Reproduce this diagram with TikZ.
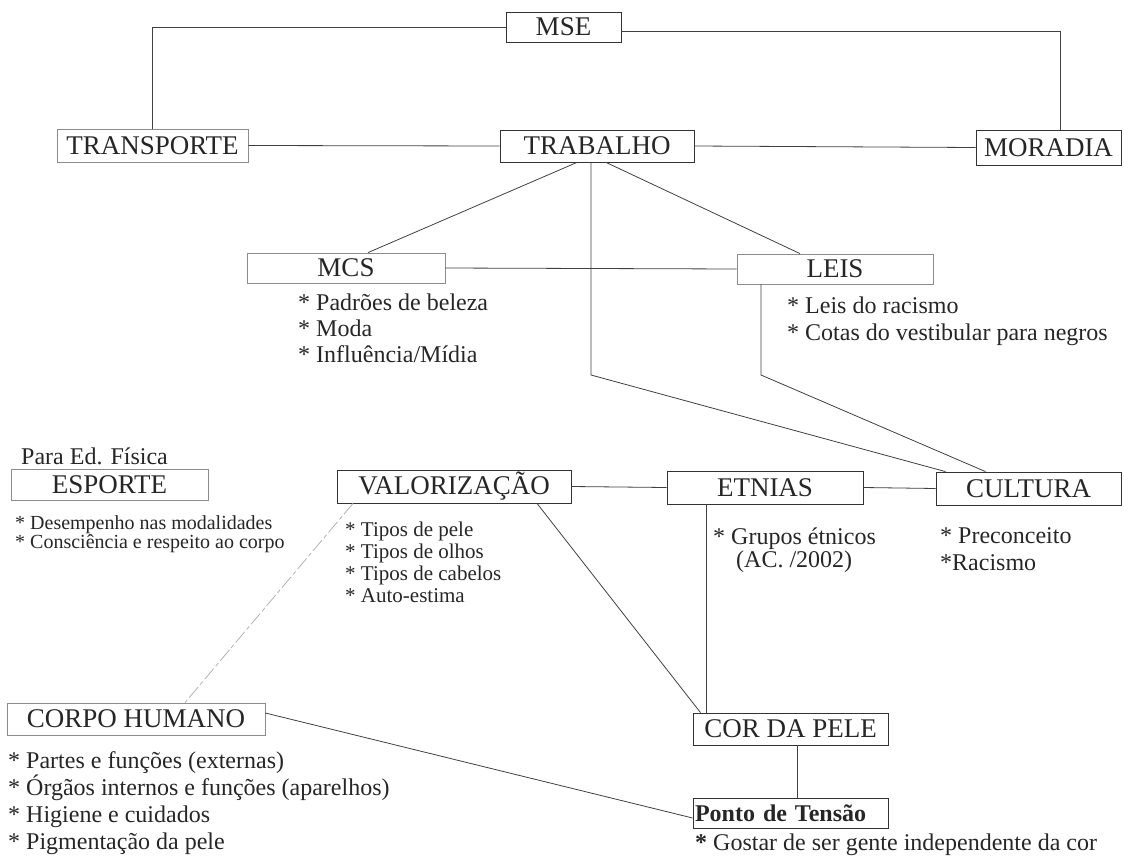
\documentclass[tikz,border=0pt]{standalone}
\usepackage{fontspec}
\setmainfont{Liberation Serif}
\usetikzlibrary{calc}

\begin{document}
\begin{tikzpicture}[x=1pt, y=-1pt,
    box/.style={draw=black!80, line width=0.8pt, inner sep=0pt, text=black!85, font=\fontsize{27}{30}\selectfont},
    pale/.style={box, draw=black!45},
    item/.style={anchor=base west, inner sep=0pt, text=black!85, font=\fontsize{24}{26}\selectfont},
    link/.style={draw=black!75, line width=0.8pt}]
  %tikz  Mapa conceitual, MSE
    \useasboundingbox (0,0) rectangle (1124,862);
    \node[box, minimum width=115pt, minimum height=30pt] (mse) at (563.5,27) {MSE};
    \node[pale, minimum width=191pt, minimum height=33pt] (transporte) at (152.5,145.5) {TRANSPORTE};
    \node[box, minimum width=194pt, minimum height=32pt] (trabalho) at (597,146) {TRABALHO};
    \node[box, minimum width=145pt, minimum height=35pt] (moradia) at (1048.5,147.5) {MORADIA};
    \node[pale, minimum width=198pt, minimum height=30pt] (mcs) at (346,268) {MCS};
    \node[pale, minimum width=196pt, minimum height=30pt] (leis) at (835,269) {LEIS};
    \node[pale, minimum width=197pt, minimum height=31pt] (esporte) at (109.5,484.5) {ESPORTE};
    \node[box, minimum width=234pt, minimum height=33pt] (valorizacao) at (454,486.5) {VALORIZAÇÃO};
    \node[box, minimum width=196pt, minimum height=33pt] (etnias) at (765,487.5) {ETNIAS};
    \node[box, minimum width=185pt, minimum height=33pt] (cultura) at (1028.5,488.5) {CULTURA};
    \node[pale, minimum width=258pt, minimum height=32pt] (corpo) at (136,719) {CORPO HUMANO};
    \node[box, minimum width=195pt, minimum height=32pt] (cor) at (790.5,729) {COR DA PELE};
    \node[box, minimum height=30pt, text width=191pt, inner xsep=2pt, align=left,
          font=\bfseries\fontsize{24}{26}\selectfont] (ponto) at (790.5,813) {Ponto de Tensão};
  % listas
    \node[item] (mcsa) at (298,310) {* Padrões de beleza};
    \node[item] (mcsb) at (298,336) {* Moda};
    \node[item] (mcsc) at (298,362) {* Influência/Mídia};
    \node[item] (leisa) at (787,313) {* Leis do racismo};
    \node[item] (leisb) at (787,340) {* Cotas do vestibular para negros};
    \node[item] (edfisica) at (21,464) {Para Ed. Física};
    \node[item, font=\fontsize{20}{22}\selectfont] (esportea) at (15,529) {* Desempenho nas modalidades};
    \node[item, font=\fontsize{20}{22}\selectfont] (esporteb) at (15,548) {* Consciência e respeito ao corpo};
    \node[item, font=\fontsize{21}{23}\selectfont] (vala) at (345,536) {* Tipos de pele};
    \node[item, font=\fontsize{21}{23}\selectfont] (valb) at (345,558) {* Tipos de olhos};
    \node[item, font=\fontsize{21}{23}\selectfont] (valc) at (345,580) {* Tipos de cabelos};
    \node[item, font=\fontsize{21}{23}\selectfont] (vald) at (345,602) {* Auto-estima};
    \node[item] (etniasa) at (713,544) {* Grupos étnicos};
    \node[item] (etniasb) at (736,567) {(AC. /2002)};
    \node[item] (culturaa) at (940,543) {* Preconceito};
    \node[item] (culturab) at (940,570) {*Racismo};
    \node[item] (corpoa) at (8,768) {* Partes e funções (externas)};
    \node[item] (corpob) at (8,795) {* Órgãos internos e funções (aparelhos)};
    \node[item] (corpoc) at (8,822) {* Higiene e cuidados};
    \node[item] (corpod) at (8,849) {* Pigmentação da pele};
    \node[item] (pontoa) at (695,850) {\textbf{*} Gostar de ser gente independente da cor};
  % ligacoes
    \coordinate (dobra1) at (591,375);
    \coordinate (dobra2) at (761,375);
    \draw[link] (mse.west) -| (transporte.north);
    \draw[link] ([yshift=-4pt]mse.east) -| ($(moradia.north)+(12,0)$);
    \draw[link] (transporte.east) -- (trabalho.west);
    \draw[link] (trabalho.east) -- (moradia.west);
    \draw[link] ($(trabalho.south)+(-20,0)$) -- ($(mcs.north)+(22,0)$);
    \draw[link] ($(trabalho.south)+(9,0)$) -- ($(leis.north)+(-35,0)$);
    \draw[link] ($(trabalho.south)+(-6,0)$) -- (dobra1) -- ($(cultura.north)+(-83,0)$);
    \draw[link] (mcs.east) -- (leis.west);
    \draw[link] ($(leis.south)+(-74,0)$) -- (dobra2) -- ($(cultura.north)+(-43,0)$);
    \draw[link] (valorizacao.east) -- (etnias.west);
    \draw[link] (etnias.east) -- (cultura.west);
    \draw[link, draw=black!30, dash pattern=on 14pt off 3pt on 4pt off 3pt] ($(valorizacao.south)+(-101,0)$) -- ($(corpo.north)+(49,0)$);
    \draw[link] ($(valorizacao.south)+(83,0)$) -- ($(cor.north)+(-90,0)$);
    \draw[link] ($(etnias.south)+(-59,0)$) -- ($(cor.north)+(-84.5,0)$);
    \draw[link] ($(cor.south)+(6.5,0)$) -- ($(ponto.north)+(6.5,0)$);
    \draw[link] ($(corpo.east)+(0,-6)$) -- ($(ponto.west)+(0,5)$);
\end{tikzpicture}
\end{document}
